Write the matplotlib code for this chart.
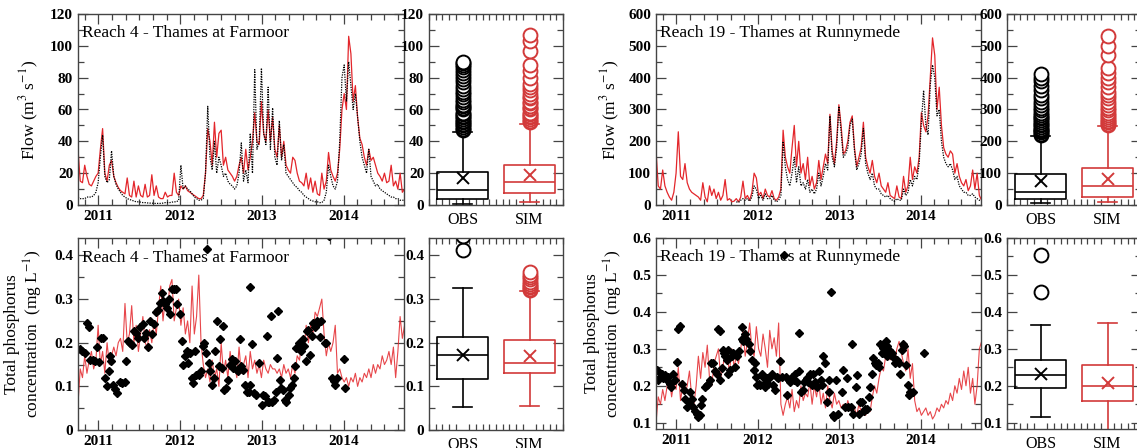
import numpy as np
import matplotlib
matplotlib.use("Agg")
import matplotlib.pyplot as plt
from matplotlib.ticker import MultipleLocator, FuncFormatter

plt.rcParams["font.family"] = ["Liberation Serif", "DejaVu Serif"]
plt.rcParams["mathtext.fontset"] = "stix"

# ================= DATA =================
# 10-day series starting 2010-10-01 (decimal years on the x axis)
START = 2010.75
STEP = 10 / 365.25

r4_flow_obs = [
    5, 4, 4, 4, 5, 5, 5, 6, 8, 14,
    30, 44, 18, 14, 16, 34, 18, 13, 10, 8,
    6, 5, 4, 3.5, 3, 2.5, 2, 2, 1.8, 1.5,
    1.5, 1.3, 1.2, 1.2, 1, 1, 1, 1, 1.2, 1.5,
    1.5, 1.5, 1.8, 2, 2, 3, 25, 10, 12, 10,
    9, 7, 5, 4, 3, 3, 4, 20, 62, 30,
    22, 40, 20, 30, 25, 18, 20, 15, 13, 12,
    10, 12, 20, 39, 15, 22, 14, 45, 20, 85,
    35, 40, 86, 45, 38, 74, 35, 61, 30, 25,
    53, 28, 38, 20, 18, 16, 14, 12, 11, 9,
    8, 6, 5, 4, 3, 2.5, 2, 2, 1.5, 1.5,
    3, 8, 25, 18, 12, 10, 15, 40, 80, 88,
    65, 90, 75, 60, 70, 55, 40, 30, 25, 20,
    35, 18, 15, 12, 13, 10, 9, 8, 7, 6,
    5, 5, 4, 4, 3, 3, 3]

r4_flow_sim = [
    35, 15, 14, 25, 18, 13, 12, 15, 18, 20,
    35, 48, 20, 15, 25, 28, 18, 14, 11, 9,
    8, 7, 17, 6, 5, 15, 5, 12, 6, 5,
    13, 5, 6, 19, 6, 12, 5, 4, 4, 8,
    5, 6, 6, 20, 8, 6, 12, 10, 12, 9,
    8, 7, 6, 5, 4, 4, 6, 20, 48, 40,
    25, 52, 30, 45, 47, 25, 30, 22, 20, 18,
    15, 18, 25, 30, 20, 35, 22, 30, 40, 58,
    40, 38, 65, 45, 40, 60, 40, 55, 35, 30,
    50, 30, 40, 25, 22, 20, 30, 28, 20, 15,
    14, 12, 20, 10, 17, 8, 15, 7, 6, 20,
    10, 15, 33, 22, 18, 15, 20, 35, 60, 70,
    60, 106, 95, 65, 75, 55, 42, 38, 30, 25,
    35, 28, 30, 25, 20, 18, 15, 20, 14, 15,
    25, 12, 15, 10, 20, 8, 10]

r19_flow_obs = [np.nan] * 36 + [
    10, 8, 15, 20,
    15, 20, 12, 25, 60, 50, 20, 30, 15, 35,
    20, 20, 30, 15, 10, 15, 30, 200, 120, 80,
    60, 100, 150, 70, 120, 60, 70, 50, 80, 40,
    50, 35, 50, 100, 60, 90, 130, 110, 280, 150,
    120, 180, 310, 230, 150, 160, 180, 250, 270, 170,
    110, 130, 160, 240, 130, 100, 80, 100, 60, 50,
    50, 35, 30, 25, 30, 20, 15, 12, 20, 15,
    15, 50, 30, 40, 80, 60, 90, 80, 130, 260,
    360, 250, 220, 380, 440, 400, 280, 300, 200, 150,
    130, 120, 130, 110, 80, 90, 60, 50, 40, 40,
    30, 30, 35, 25, 20, 15, 12]

r19_flow_sim = [
    170, 60, 50, 110, 60, 40, 25, 15, 40, 100,
    230, 90, 80, 130, 70, 50, 40, 35, 30, 25,
    15, 70, 25, 10, 60, 30, 50, 20, 40, 15,
    30, 80, 15, 20, 10, 12, 20, 10, 25, 75,
    20, 30, 15, 40, 100, 85, 30, 40, 20, 50,
    30, 25, 45, 20, 15, 25, 50, 235, 150, 120,
    100, 180, 250, 120, 200, 100, 130, 80, 150, 60,
    90, 50, 70, 140, 80, 120, 160, 130, 285, 170,
    130, 200, 315, 250, 160, 170, 200, 260, 280, 180,
    120, 150, 180, 260, 150, 120, 100, 140, 90, 70,
    100, 60, 50, 40, 70, 30, 25, 20, 60, 25,
    20, 90, 40, 60, 150, 80, 120, 100, 150, 290,
    250, 230, 280, 400, 525, 470, 300, 370, 250, 180,
    160, 150, 170, 160, 100, 130, 90, 70, 60, 80,
    45, 60, 110, 50, 100, 30, 15]

r4_tp_sim = [
    0.06, 0.14, 0.12, 0.17, 0.13, 0.16, 0.18, 0.14, 0.16, 0.24,
    0.15, 0.18, 0.13, 0.2, 0.15, 0.17, 0.19, 0.17, 0.2, 0.21,
    0.18, 0.29, 0.2, 0.22, 0.285, 0.2, 0.24, 0.18, 0.22, 0.26,
    0.2, 0.19, 0.23, 0.2, 0.25, 0.22, 0.28, 0.33, 0.25, 0.3,
    0.27, 0.33, 0.345, 0.25, 0.28, 0.3, 0.24, 0.28, 0.22, 0.25,
    0.2, 0.33, 0.22, 0.26, 0.355, 0.2, 0.15, 0.12, 0.14, 0.11,
    0.16, 0.12, 0.14, 0.1, 0.2, 0.13, 0.16, 0.12, 0.18, 0.14,
    0.15, 0.12, 0.19, 0.13, 0.15, 0.17, 0.12, 0.18, 0.14, 0.16,
    0.13, 0.15, 0.12, 0.16, 0.14, 0.13, 0.15, 0.14, 0.14, 0.13,
    0.14, 0.12, 0.15, 0.13, 0.14, 0.12, 0.15, 0.13, 0.17, 0.16,
    0.2, 0.18, 0.24, 0.2, 0.24, 0.22, 0.27, 0.26, 0.28, 0.3,
    0.22, 0.17, 0.2, 0.18, 0.2, 0.24, 0.13, 0.14, 0.12, 0.11,
    0.12, 0.1, 0.12, 0.11, 0.13, 0.1, 0.12, 0.11, 0.13, 0.12,
    0.14, 0.12, 0.15, 0.13, 0.15, 0.14, 0.17, 0.15, 0.16, 0.18,
    0.15, 0.19, 0.12, 0.18, 0.26, 0.21, 0.24]

r19_tp_sim = [
    0.1, 0.17, 0.15, 0.19, 0.16, 0.2, 0.22, 0.17, 0.21, 0.19,
    0.25, 0.16, 0.2, 0.18, 0.2, 0.24, 0.17, 0.15, 0.2, 0.28,
    0.22, 0.29, 0.25, 0.31, 0.22, 0.2, 0.26, 0.28, 0.3, 0.22,
    0.25, 0.3, 0.27, 0.24, 0.3, 0.25, 0.28, 0.26, 0.3, 0.35,
    0.28, 0.32, 0.37, 0.3, 0.28, 0.36, 0.3, 0.28, 0.34, 0.3,
    0.25, 0.35, 0.3, 0.33, 0.28, 0.37, 0.15, 0.12, 0.15, 0.17,
    0.14, 0.19, 0.13, 0.16, 0.14, 0.2, 0.16, 0.18, 0.17, 0.21,
    0.15, 0.2, 0.17, 0.21, 0.15, 0.18, 0.14, 0.2, 0.16, 0.14,
    0.18, 0.15, 0.16, 0.14, 0.15, 0.13, 0.16, 0.14, 0.13, 0.14,
    0.12, 0.15, 0.13, 0.14, 0.12, 0.14, 0.13, 0.17, 0.2, 0.18,
    0.22, 0.25, 0.24, 0.28, 0.3, 0.27, 0.29, 0.26, 0.3, 0.32,
    0.29, 0.26, 0.24, 0.3, 0.22, 0.26, 0.16, 0.13, 0.14, 0.12,
    0.13, 0.14, 0.12, 0.13, 0.11, 0.12, 0.14, 0.13, 0.15, 0.14,
    0.16, 0.15, 0.18, 0.16, 0.2, 0.18, 0.22, 0.19, 0.24, 0.2,
    0.25, 0.18, 0.22, 0.15, 0.2, 0.3, 0.32]

# observed total phosphorus samples (decimal year, mg/L)
r4_tp_obs_t = [
    2010.77, 2010.80, 2010.84, 2010.86, 2010.88, 2010.90, 2010.93, 2010.96, 2010.98, 2011.01,
    2011.03, 2011.06, 2011.08, 2011.10, 2011.13, 2011.14, 2011.16, 2011.18, 2011.20, 2011.23,
    2011.26, 2011.29, 2011.33, 2011.34, 2011.36, 2011.39, 2011.41, 2011.43, 2011.46, 2011.49,
    2011.51, 2011.54, 2011.56, 2011.58, 2011.61, 2011.63, 2011.66, 2011.68, 2011.71, 2011.73,
    2011.75, 2011.78, 2011.79, 2011.82, 2011.84, 2011.86, 2011.88, 2011.90, 2011.92, 2011.95,
    2011.96, 2012.00, 2012.02, 2012.04, 2012.06, 2012.08, 2012.10, 2012.12, 2012.14, 2012.16,
    2012.18, 2012.20, 2012.23, 2012.26, 2012.28, 2012.29, 2012.32, 2012.33, 2012.35, 2012.37,
    2012.39, 2012.41, 2012.43, 2012.45, 2012.47, 2012.49, 2012.51, 2012.52, 2012.54, 2012.56,
    2012.58, 2012.61, 2012.63, 2012.65, 2012.67, 2012.69, 2012.71, 2012.73, 2012.75, 2012.77,
    2012.79, 2012.82, 2012.84, 2012.85, 2012.86, 2012.88, 2012.90, 2012.93, 2012.96, 2013.00,
    2013.02, 2013.04, 2013.06, 2013.07, 2013.09, 2013.11, 2013.13, 2013.15, 2013.17, 2013.18,
    2013.20, 2013.22, 2013.24, 2013.26, 2013.28, 2013.30, 2013.33, 2013.35, 2013.37, 2013.39,
    2013.41, 2013.42, 2013.44, 2013.46, 2013.48, 2013.50, 2013.52, 2013.54, 2013.55, 2013.57,
    2013.59, 2013.61, 2013.63, 2013.65, 2013.67, 2013.69, 2013.71, 2013.73, 2013.77, 2013.79,
    2013.82, 2013.86, 2013.88, 2013.90, 2013.92, 2014.00, 2014.02]
r4_tp_obs = [
    0.185, 0.18, 0.177, 0.245, 0.235, 0.16, 0.16, 0.158, 0.19, 0.155,
    0.21, 0.21, 0.12, 0.10, 0.135, 0.17, 0.158, 0.104, 0.095, 0.085,
    0.11, 0.108, 0.11, 0.158, 0.205, 0.2, 0.195, 0.227, 0.223, 0.21,
    0.235, 0.243, 0.21, 0.223, 0.19, 0.25, 0.22, 0.243, 0.27, 0.275,
    0.29, 0.315, 0.296, 0.288, 0.28, 0.3, 0.265, 0.323, 0.323, 0.323,
    0.288, 0.265, 0.204, 0.15, 0.17, 0.18, 0.154, 0.177, 0.12, 0.108,
    0.18, 0.127, 0.127, 0.135, 0.192, 0.2, 0.177, 0.414, 0.154, 0.135,
    0.104, 0.12, 0.18, 0.25, 0.146, 0.208, 0.142, 0.238, 0.092, 0.096,
    0.115, 0.15, 0.162, 0.142, 0.158, 0.138, 0.135, 0.208, 0.146, 0.138,
    0.104, 0.088, 0.088, 0.327, 0.104, 0.196, 0.085, 0.081, 0.154, 0.058,
    0.081, 0.077, 0.215, 0.065, 0.065, 0.262, 0.065, 0.069, 0.088, 0.165,
    0.273, 0.115, 0.096, 0.092, 0.069, 0.065, 0.081, 0.096, 0.104, 0.12,
    0.146, 0.188, 0.188, 0.2, 0.18, 0.208, 0.192, 0.158, 0.227, 0.23,
    0.173, 0.215, 0.246, 0.235, 0.25, 0.246, 0.212, 0.25, 0.2, 0.2,
    0.445, 0.12, 0.112, 0.104, 0.12, 0.162, 0.096]

r19_tp_obs_t = [
    2010.76, 2010.78, 2010.80, 2010.82, 2010.84, 2010.86, 2010.88, 2010.90, 2010.92, 2010.94,
    2010.96, 2010.98, 2011.01, 2011.02, 2011.05, 2011.07, 2011.09, 2011.11, 2011.13, 2011.15,
    2011.17, 2011.19, 2011.21, 2011.23, 2011.25, 2011.27, 2011.29, 2011.30, 2011.32, 2011.35,
    2011.37, 2011.39, 2011.41, 2011.43, 2011.45, 2011.48, 2011.50, 2011.51, 2011.53, 2011.54,
    2011.56, 2011.57, 2011.59, 2011.60, 2011.62, 2011.63, 2011.64, 2011.66, 2011.68, 2011.70,
    2011.72, 2011.74, 2011.77, 2011.80, 2011.81, 2011.82, 2011.84, 2011.86, 2011.89, 2011.91,
    2011.93, 2011.95, 2011.96, 2011.98, 2011.99, 2012.01, 2012.03, 2012.05, 2012.06, 2012.08,
    2012.09, 2012.11, 2012.13, 2012.15, 2012.17, 2012.19, 2012.21, 2012.23, 2012.25, 2012.27,
    2012.30, 2012.32, 2012.35, 2012.36, 2012.38, 2012.40, 2012.42, 2012.44, 2012.46, 2012.48,
    2012.50, 2012.51, 2012.53, 2012.55, 2012.57, 2012.59, 2012.60, 2012.62, 2012.64, 2012.66,
    2012.68, 2012.70, 2012.73, 2012.75, 2012.77, 2012.79, 2012.80, 2012.83, 2012.85, 2012.87,
    2012.88, 2012.90, 2012.92, 2012.94, 2012.96, 2012.99, 2013.03, 2013.05, 2013.07, 2013.09,
    2013.11, 2013.14, 2013.16, 2013.17, 2013.20, 2013.22, 2013.24, 2013.26, 2013.28, 2013.30,
    2013.32, 2013.34, 2013.36, 2013.38, 2013.40, 2013.42, 2013.44, 2013.45, 2013.47, 2013.49,
    2013.50, 2013.52, 2013.54, 2013.55, 2013.57, 2013.58, 2013.59, 2013.61, 2013.63, 2013.65,
    2013.67, 2013.69, 2013.71, 2013.73, 2013.75, 2013.77, 2013.78, 2013.80, 2013.82, 2013.84,
    2013.85, 2013.87, 2013.91, 2014.04]
r19_tp_obs = [
    0.243, 0.215, 0.224, 0.233, 0.22, 0.23, 0.215, 0.224, 0.206, 0.197,
    0.233, 0.215, 0.265, 0.353, 0.362, 0.206, 0.188, 0.165, 0.142, 0.156,
    0.183, 0.165, 0.142, 0.133, 0.124, 0.115, 0.12, 0.147, 0.165, 0.197,
    0.202, 0.206, 0.215, 0.261, 0.261, 0.239, 0.233, 0.353, 0.349, 0.215,
    0.248, 0.298, 0.289, 0.28, 0.271, 0.298, 0.233, 0.243, 0.28, 0.289,
    0.252, 0.28, 0.294, 0.358, 0.326, 0.321, 0.339, 0.326, 0.312, 0.294,
    0.271, 0.243, 0.261, 0.224, 0.202, 0.206, 0.202, 0.233, 0.224, 0.206,
    0.197, 0.22, 0.206, 0.224, 0.233, 0.202, 0.188, 0.224, 0.22, 0.266,
    0.224, 0.554, 0.224, 0.174, 0.215, 0.211, 0.224, 0.215, 0.233, 0.211,
    0.239, 0.344, 0.183, 0.188, 0.211, 0.215, 0.22, 0.211, 0.233, 0.202,
    0.233, 0.211, 0.197, 0.239, 0.215, 0.202, 0.28, 0.261, 0.156, 0.215,
    0.183, 0.454, 0.12, 0.115, 0.215, 0.124, 0.183, 0.243, 0.142, 0.22,
    0.142, 0.142, 0.312, 0.124, 0.197, 0.229, 0.124, 0.156, 0.156, 0.133,
    0.138, 0.138, 0.17, 0.197, 0.233, 0.275, 0.261, 0.257, 0.261, 0.252,
    0.312, 0.289, 0.303, 0.289, 0.321, 0.28, 0.307, 0.298, 0.284, 0.289,
    0.275, 0.261, 0.271, 0.261, 0.233, 0.298, 0.312, 0.307, 0.257, 0.202,
    0.174, 0.183, 0.183, 0.289]

# box plot summaries: whislo, q1, med, q3, whishi, mean
r4_flow_box_obs = [0.5, 3.6, 9.5, 20.6, 46, 16.8]
r4_flow_box_sim = [1.7, 7.4, 14.3, 25.3, 51, 19]
r4_flow_fl_obs = [47, 48, 49, 50, 51, 52, 53, 54, 55, 56, 57, 58, 60, 61, 62, 63, 65, 66, 68,
                  70, 71, 73, 75, 77, 79, 81, 83, 85, 87, 88, 89, 90]
r4_flow_fl_sim = [52, 53, 54, 55, 56, 57, 58, 60, 61, 62, 64, 65, 67, 68, 70, 72, 74, 76,
                  80, 84, 88, 97, 103, 107]
r19_flow_box_obs = [5, 18, 40, 98, 218, 76]
r19_flow_box_sim = [8, 26, 61, 116, 249, 82]
r19_flow_fl_obs = [220, 224, 228, 232, 236, 240, 245, 250, 255, 260, 266, 272, 278, 284, 290,
                   297, 305, 315, 325, 335, 345, 360, 375, 390, 400, 410]
r19_flow_fl_sim = [252, 256, 260, 265, 270, 276, 282, 290, 298, 306, 315, 325, 335, 345, 355,
                   370, 385, 400, 415, 430, 470, 500, 530]
r4_tp_box_obs = [0.053, 0.116, 0.171, 0.212, 0.326, 0.173]
r4_tp_box_sim = [0.054, 0.13, 0.154, 0.206, 0.318, 0.17]
r4_tp_fl_obs = [0.412, 0.445]
r4_tp_fl_sim = [0.321, 0.324, 0.327, 0.331, 0.335, 0.34, 0.345, 0.35, 0.356, 0.362]
r19_tp_box_obs = [0.116, 0.195, 0.228, 0.27, 0.365, 0.232]
r19_tp_box_sim = [0.07, 0.16, 0.2, 0.255, 0.37, 0.208]
r19_tp_fl_obs = [0.455, 0.555]
r19_tp_fl_sim = []

RED = "#e3262b"
BOXRED = "#d23a3a"
SPINE = "#444444"

W, H = 1137, 448
fig = plt.figure(figsize=(W / 100, H / 100), dpi=100)


def px_axes(l, t, r, b):
    return fig.add_axes([l / W, 1 - b / H, (r - l) / W, (b - t) / H])


def num_fmt(v, p):
    v = round(v, 3)
    return "0" if v == 0 else f"{v:g}"


def finish_ticks(ax, xlabels_bold=True):
    for lab in ax.get_yticklabels():
        lab.set_fontweight("bold")
    if xlabels_bold:
        for lab in ax.get_xticklabels():
            lab.set_fontweight("bold")
    for s in ax.spines.values():
        s.set_color(SPINE)
        s.set_linewidth(1.0)


def style_ts(ax, ylim, major, minor, title, ylabel, label_x):
    ax.set_xlim(2010.75, 2014.74)
    ax.set_ylim(*ylim)
    ax.xaxis.set_major_locator(MultipleLocator(1))
    ax.xaxis.set_minor_locator(MultipleLocator(1 / 6))
    ax.yaxis.set_major_locator(MultipleLocator(major))
    ax.yaxis.set_minor_locator(MultipleLocator(minor))
    ax.xaxis.set_major_formatter(FuncFormatter(lambda v, p: f"{int(round(v))}"))
    ax.yaxis.set_major_formatter(FuncFormatter(num_fmt))
    ax.tick_params(which="both", direction="in", top=True, right=True,
                   labelsize=11, color=SPINE, width=0.9)
    ax.tick_params(which="major", length=7)
    ax.tick_params(which="minor", length=4)
    ax.text(0.012, 0.94, title, transform=ax.transAxes, va="top", ha="left",
            fontsize=12.5)
    ax.set_ylabel(ylabel, fontsize=12.5, linespacing=1.1)
    ax.yaxis.set_label_coords(label_x, 0.5)
    finish_ticks(ax)


def draw_box(ax, stats, fliers, pos, color):
    lo, q1, med, q3, hi, mean = stats
    d = dict(whislo=lo, q1=q1, med=med, q3=q3, whishi=hi, mean=mean,
             fliers=np.array(fliers, dtype=float))
    ax.bxp([d], positions=[pos], widths=0.76, capwidths=0.28, showmeans=True,
           boxprops=dict(color=color, lw=1.2),
           whiskerprops=dict(color=color, lw=1.2),
           capprops=dict(color=color, lw=1.2),
           medianprops=dict(color=color, lw=1.2),
           meanprops=dict(marker="x", markeredgecolor=color, markersize=9, mew=1.4),
           flierprops=dict(marker="o", mfc="white", mec=color, ms=10, mew=1.4))


def style_box(ax, ylim, major, minor):
    ax.set_xlim(0.5, 2.5)
    ax.set_ylim(*ylim)
    ax.set_xticks([1, 2])
    ax.set_xticklabels(["OBS", "SIM"])
    ax.xaxis.set_minor_locator(MultipleLocator(0.1))
    ax.yaxis.set_major_locator(MultipleLocator(major))
    ax.yaxis.set_minor_locator(MultipleLocator(minor))
    ax.yaxis.set_major_formatter(FuncFormatter(num_fmt))
    ax.tick_params(which="both", direction="in", top=True, right=True,
                   color=SPINE, width=0.9)
    ax.tick_params(axis="y", labelsize=11)
    ax.tick_params(axis="x", labelsize=11.5, length=0, pad=5)
    ax.tick_params(which="major", axis="y", length=7)
    ax.tick_params(which="minor", length=4)
    finish_ticks(ax, xlabels_bold=False)


n = len(r4_flow_obs)
t_line = START + np.arange(n) * STEP

FLOW_LABEL = "Flow (m$^{3}$ s$^{-1}$)"
TP_LABEL = "Total phosphorus\nconcentration  (mg L$^{-1}$)"

# ---- Reach 4 flow
ax = px_axes(78, 14, 404, 205)
ax.plot(t_line, r4_flow_sim, color=RED, lw=0.9)
ax.plot(t_line, r4_flow_obs, color="black", lw=0.9, ls=(0, (1, 1)))
style_ts(ax, (0, 120), 20, 10, "Reach 4 - Thames at Farmoor", FLOW_LABEL, -0.113)

bx = px_axes(429, 14, 563, 205)
draw_box(bx, r4_flow_box_obs, r4_flow_fl_obs, 1, "black")
draw_box(bx, r4_flow_box_sim, r4_flow_fl_sim, 2, BOXRED)
style_box(bx, (0, 120), 20, 10)

# ---- Reach 19 flow
ax = px_axes(656, 14, 981, 205)
ax.plot(t_line, r19_flow_sim, color=RED, lw=0.9)
ax.plot(t_line, r19_flow_obs, color="black", lw=0.9, ls=(0, (1, 1)))
style_ts(ax, (0, 600), 100, 50, "Reach 19 - Thames at Runnymede", FLOW_LABEL, -0.104)

bx = px_axes(1007, 14, 1141, 205)
draw_box(bx, r19_flow_box_obs, r19_flow_fl_obs, 1, "black")
draw_box(bx, r19_flow_box_sim, r19_flow_fl_sim, 2, BOXRED)
style_box(bx, (0, 600), 100, 50)

# ---- Reach 4 total phosphorus
ax = px_axes(78, 238, 404, 430)
ax.plot(t_line, r4_tp_sim, color=RED, lw=0.8, alpha=0.85)
ax.plot(r4_tp_obs_t, r4_tp_obs, ls="none", marker="D", ms=4.2, color="black")
style_ts(ax, (0, 0.44), 0.1, 0.05, "Reach 4 - Thames at Farmoor", TP_LABEL, -0.101)

bx = px_axes(429, 238, 563, 430)
draw_box(bx, r4_tp_box_obs, r4_tp_fl_obs, 1, "black")
draw_box(bx, r4_tp_box_sim, r4_tp_fl_sim, 2, BOXRED)
style_box(bx, (0, 0.44), 0.1, 0.05)

# ---- Reach 19 total phosphorus
ax = px_axes(656, 238, 981, 429)
ax.plot(t_line, r19_tp_sim, color=RED, lw=0.8, alpha=0.85)
ax.plot(r19_tp_obs_t, r19_tp_obs, ls="none", marker="D", ms=4.2, color="black")
style_ts(ax, (0.083, 0.6), 0.1, 0.05, "Reach 19 - Thames at Runnymede", TP_LABEL, -0.095)

bx = px_axes(1007, 238, 1141, 429)
draw_box(bx, r19_tp_box_obs, r19_tp_fl_obs, 1, "black")
draw_box(bx, r19_tp_box_sim, r19_tp_fl_sim, 2, BOXRED)
style_box(bx, (0.083, 0.6), 0.1, 0.05)

fig.savefig("out.png", dpi=100)
